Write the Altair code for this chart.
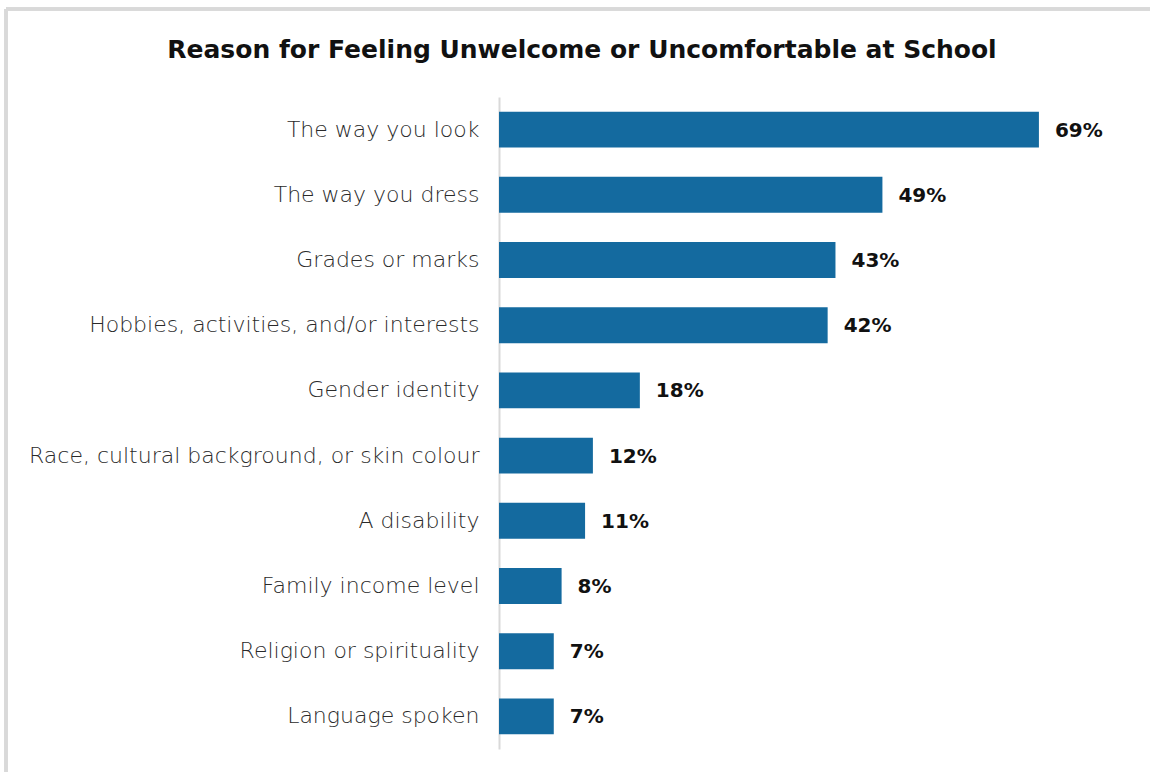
import altair as alt
import pandas as pd

reasons = [
    "The way you look",
    "The way you dress",
    "Grades or marks",
    "Hobbies, activities, and/or interests",
    "Gender identity",
    "Race, cultural background, or skin colour",
    "A disability",
    "Family income level",
    "Religion or spirituality",
    "Language spoken",
]
percents = [69, 49, 43, 42, 18, 12, 11, 8, 7, 7]
title_text = "Reason for Feeling Unwelcome or Uncomfortable at School"

df = pd.DataFrame({"reason": reasons, "pct": percents})
df["label"] = df["pct"].astype(str) + "%"

FONT = "DejaVu Sans"
W, H = 590, 652

y_enc = alt.Y("reason:N", sort=reasons, title=None,
              scale=alt.Scale(paddingInner=0.45, paddingOuter=0.225),
              axis=alt.Axis(labelFont=FONT, labelFontSize=22, labelFontWeight=300,
                            labelColor="#2a2a2a", labelPadding=20, ticks=False,
                            domainColor="#d9d9d9", domainWidth=2, labelLimit=600))
x_enc = alt.X("pct:Q", title=None, scale=alt.Scale(domain=[0, 75.4], nice=False),
              axis=None)

bars = alt.Chart(df).mark_bar(color="#146a9f").encode(x=x_enc, y=y_enc)
labels = alt.Chart(df).mark_text(align="left", baseline="middle", dx=16, dy=1,
                                 font=FONT, fontSize=20, fontWeight="bold",
                                 color="#111111").encode(x=x_enc, y=y_enc, text="label:N")

border_top = alt.Chart(df).mark_rule(color="#d9d9d9", strokeWidth=3).encode(
    x=alt.value(-493), x2=alt.value(651), y=alt.value(-88))
border_left = alt.Chart(df).mark_rule(color="#d9d9d9", strokeWidth=3).encode(
    x=alt.value(-493), y=alt.value(-88), y2=alt.value(675))

title = alt.Chart(pd.DataFrame({"t": [title_text]})).mark_text(
    align="center", baseline="alphabetic", font=FONT, fontSize=25,
    fontWeight="bold", color="#111111").encode(
    x=alt.value(83), y=alt.value(-39), text="t:N")

chart = alt.layer(border_top, border_left, bars, labels, title).properties(
    width=W, height=H,
    autosize=alt.AutoSizeParams(type="none"),
    padding={"left": 499, "top": 97, "right": 61, "bottom": 23},
).configure_view(stroke=None)

chart.save("out.html", embed_options={"renderer": "svg", "actions": False})
